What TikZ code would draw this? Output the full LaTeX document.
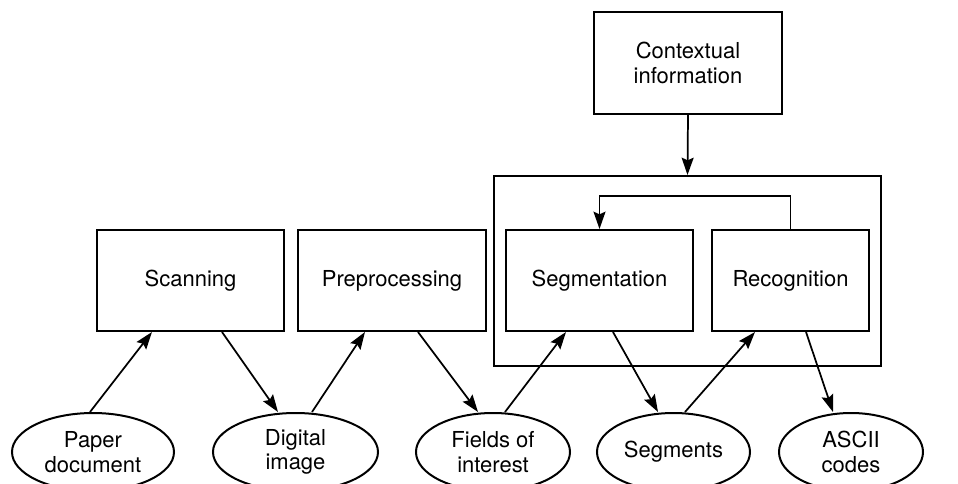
\documentclass[tikz,border=0pt]{standalone}
\usepackage{fontspec}
\setmainfont{TeX Gyre Heros}
\usetikzlibrary{arrows.meta,shapes.geometric,calc}
\tikzstyle{txt}=[font=\fontsize{16.5}{18.5}\selectfont,align=center,inner sep=0]
\tikzstyle{box}=[txt,draw,line width=1.5,rectangle,minimum height=75.75pt]
\tikzstyle{data}=[txt,draw,line width=1.5,ellipse,minimum height=58.5pt]
\tikzstyle{flow}=[->,line width=1.3]
\tikzset{>={Stealth[length=13pt,width=9pt,inset=2pt]}}

\begin{document}
\begin{tikzpicture}[x=0.75pt,y=-0.75pt]
  \clip (0,0) rectangle (958,483);
  \def\B{280.5} % box row
  \def\E{452}   % ellipse row

  % PROCESS BOXES
  \node[box,minimum width=140.25pt] (scan) at (190.5,\B) {Scanning};
  \node[box,minimum width=141pt]    (prep) at (392,\B)   {Preprocessing};
  \node[box,minimum width=290.25pt,minimum height=142.5pt] (core) at (687.5,271) {};
  \node[box,minimum width=140.25pt] (seg)  at (599.5,\B) {Segmentation};
  \node[box,minimum width=117.75pt] (rec)  at (790.5,\B) {Recognition};
  \node[box,minimum width=141pt,minimum height=76.5pt] (ctx) at (688,63) {Contextual\\information};

  % DATA ELLIPSES
  \node[data,minimum width=121.5pt]  (paper)  at (93,\E)    {Paper\\document};
  \node[data,minimum width=123.75pt] (image)  at (295.5,\E) {Digital\\image};
  \node[data,minimum width=115.5pt]  (fields) at (493,\E)   {Fields of\\interest};
  \node[data,minimum width=114.75pt] (segs)   at (673.5,\E) {Segments};
  \node[data,minimum width=108pt]    (ascii)  at (851,\E)   {ASCII\\codes};

  % FLOW
  \draw[flow] ($(paper.north)+(-3,0)$)    -- ($(scan.south)+(-38.5,0)$);
  \draw[flow] ($(scan.south)+(31.5,0)$)   -- ($(image.north)+(-17.5,0)$);
  \draw[flow] ($(image.north)+(16.5,0)$)  -- ($(prep.south)+(-27,0)$);
  \draw[flow] ($(prep.south)+(26,0)$)     -- ($(fields.north)+(-15,0)$);
  \draw[flow] ($(fields.north)+(12,0)$)   -- ($(seg.south)+(-33.5,0)$);
  \draw[flow] ($(seg.south)+(13.5,0)$)    -- ($(segs.north)+(-15.5,0)$);
  \draw[flow] ($(segs.north)+(11.5,0)$)   -- ($(rec.south)+(-35.5,0)$);
  \draw[flow] ($(rec.south)+(15.5,0)$)    -- ($(ascii.north)+(-18,0)$);
  \draw[flow] (rec.north) -- ++(0,-33) -| (seg.north);
  \draw[flow] (ctx.south) -- (core.north);

\end{tikzpicture}
\end{document}
